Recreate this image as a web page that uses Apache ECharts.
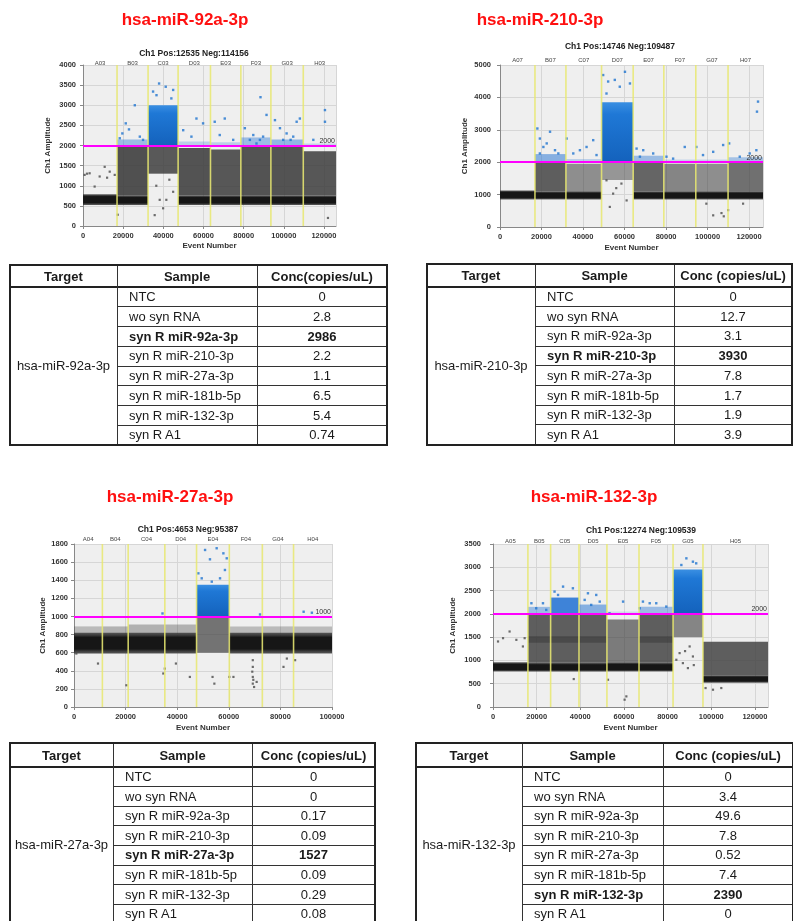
<!DOCTYPE html>
<html><head><meta charset="utf-8">
<script src="https://cdn.jsdelivr.net/npm/echarts@6/dist/echarts.min.js"></script>
<style>
html,body{margin:0;padding:0;background:#fff;width:793px;height:921px;overflow:hidden;}
#chart{position:absolute;left:0;top:0;width:793px;height:921px;}
.tb{position:absolute;font-family:'Liberation Sans',Arial,sans-serif;font-size:13px;color:#1a1a1a;}
.tb div{position:absolute;box-sizing:border-box;white-space:nowrap;}
</style></head><body>
<div id="chart"></div>
<script>
// ---------------- DATA ----------------
const panelTargets = ['hsa-miR-92a-3p','hsa-miR-210-3p','hsa-miR-27a-3p','hsa-miR-132-3p'];
const posCounts = [12535, 14746, 4653, 12274];
const negCounts = [114156, 109487, 95387, 109539];
const wellNames = [
  ['A03','B03','C03','D03','E03','F03','G03','H03'],
  ['A07','B07','C07','D07','E07','F07','G07','H07'],
  ['A04','B04','C04','D04','E04','F04','G04','H04'],
  ['A05','B05','C05','D05','E05','F05','G05','H05']
];
// event-number boundaries of the wells (merged droplet stream)
const wellEdges = [
  [0,16950,32410,47370,63490,78610,93570,109700,126000],
  [0,16840,31760,48920,64160,78920,94320,109870,126700],
  [0,11000,21000,35200,47500,60200,73000,85100,100000],
  [0,16000,26400,39400,52200,66900,82500,96200,126000]
];
const eventMax = [126000, 126700, 100000, 126000];
const eventStep = 20000;
const ampMax = [4000, 5000, 1800, 3500];
const ampStep = [500, 1000, 200, 500];
const threshold = [2000, 2000, 1000, 2000];

// negative droplet cluster (dense band) per well, amplitude
const negLo = [
  [520,520,null,520,520,520,520,520],
  [850,850,850,null,850,850,850,850],
  [590,590,590,590,null,590,590,590],
  [760,760,760,760,760,760,null,520]
];
const negHi = [
  [790,760,null,760,760,760,760,760],
  [1130,1100,1100,null,1100,1100,1100,1100],
  [820,820,820,820,null,820,820,820],
  [960,950,950,950,960,950,null,680]
];
// "rain" droplets between clusters
const rainLo = [
  [null,760,1300,760,760,760,760,760],
  [null,1100,1100,1450,1100,1100,1100,1100],
  [810,810,810,810,600,810,810,810],
  [null,950,950,950,960,950,1500,680]
];
const rainHi = [
  [null,1960,2000,1940,1900,1980,1980,1860],
  [null,2000,1950,2000,2000,1950,1950,2000],
  [890,890,910,910,1000,890,890,890],
  [null,1990,2000,2000,1880,2000,2000,1400]
];
const rainDensity = [
  [0,0.9,0.85,0.88,0.86,0.88,0.88,0.86],
  [0,0.82,0.55,0.5,0.78,0.6,0.55,0.72],
  [0.3,0.35,0.35,0.35,0.7,0.3,0.3,0.3],
  [0,0.82,0.82,0.82,0.66,0.82,0.6,0.82]
];
// secondary (partially amplified) droplet band
const midLo = [
  [null,null,null,null,null,null,null,null],
  [null,null,null,null,null,null,null,null],
  [null,null,null,null,null,null,null,null],
  [null,1380,1380,1380,null,1380,null,null]
];
const midHi = [
  [null,null,null,null,null,null,null,null],
  [null,null,null,null,null,null,null,null],
  [null,null,null,null,null,null,null,null],
  [null,1520,1520,1520,null,1520,null,null]
];
// positive droplet cluster top per well (from threshold up)
const posHi = [
  [null,2150,3000,2100,2080,2200,2150,2050],
  [null,2250,2100,3850,2200,2080,2080,2150],
  [null,null,null,null,1350,null,null,null],
  [null,2150,2350,2200,2050,2150,2950,null]
];
const posDensity = [
  [0,0.4,1,0.25,0.25,0.4,0.45,0.2],
  [0,0.5,0.25,1,0.4,0.2,0.2,0.35],
  [0,0,0,0,1,0,0,0],
  [0,0.4,0.85,0.5,0.15,0.4,1,0]
];
// sparse positive droplets [event, amplitude]
const posDots = [
  [[19600,2300],[22900,2400],[25800,3000],[21300,2550],[18300,2180],[28300,2220],[29900,2140],
   [34900,3340],[37900,3540],[41200,3460],[44900,3380],[36600,3250],[44000,3170],
   [49900,2380],[56500,2670],[59800,2550],[54000,2220],
   [65600,2590],[70600,2670],[68100,2260],[74800,2140],
   [80600,2430],[84800,2260],[88400,3200],[88100,2140],[91400,2760],[83100,2140],[86400,2050],[89700,2220],
   [95600,2630],[98100,2430],[101400,2300],[104700,2220],[106400,2590],[108000,2670],[103400,2140],[99700,2140],
   [120500,2880],[120500,2590],[114700,2140]],
  [[18000,3040],[19200,2730],[24100,2940],[20900,2470],[22500,2580],[26500,2370],[28100,2270],[19200,2270],
   [32100,2730],[35300,2270],[38500,2370],[41700,2470],[44900,2680],[46500,2220],
   [49700,4690],[52100,4490],[55300,4540],[60200,4790],[57700,4330],[62600,4430],[51300,4120],
   [65800,2420],[69000,2370],[73800,2270],[67400,2170],
   [80200,2170],[89000,2470],[83400,2110],
   [94600,2470],[97800,2220],[102700,2320],[107500,2530],
   [110400,2580],[115500,2170],[123500,2370],[124300,3870],[123800,3560],[120300,2270]],
  [[48200,1476],[50800,1734],[52700,1631],[55300,1753],[57900,1697],[58500,1513],[53400,1384],[56600,1421],[59200,1642],[49500,1421],
   [34300,1033],[72100,1022],[89000,1052],[92200,1041]],
  [[17600,2228],[19800,2120],[22900,2228],[24400,2085],
   [32100,2585],[36600,2549],[28200,2478],[29800,2406],
   [43500,2442],[47300,2406],[42000,2300],[48900,2263],[45000,2192],
   [59600,2263],[53400,2013],
   [68700,2263],[71800,2228],[74800,2228],[79400,2156],[67200,2120],
   [88600,3192],[91600,3120],[86300,3049],[93100,3085]]
];
// sparse negative / outlier droplets [event, amplitude]
const negDots = [
  [[800,1270],[3300,1310],[8300,1230],[10800,1470],[13300,1350],[15800,1270],[5800,980],[2000,1300],[12000,1200],
   [35700,270],[38200,650],[41500,650],[44900,850],[39900,440],[36500,1000],[43000,1150],[17300,280],[122000,200]],
  [[102700,360],[106700,430],[107800,330],[109900,520],[99400,720],[117100,720],
   [51300,1440],[54500,1030],[58500,1340],[61000,820],[52900,620],[56000,1200]],
  [[900,590],[9300,480],[20300,240],[34600,370],[35200,424],[39500,480],[44900,332],[53700,332],[54400,258],[60200,332],[61800,332],
   [69300,443],[69300,332],[69300,258],[69800,221],[69300,517],[70800,277],[69100,390],[69500,300],[81200,443],[82500,535],[85700,517]],
  [[2300,1407],[4600,1478],[7600,1621],[10700,1442],[13700,1300],[14500,1478],
   [84000,1014],[87000,942],[89300,835],[91600,1085],[85500,1157],[90100,1300],[88000,1200],[92000,900],
   [60300,157],[61100,228],[97400,407],[100800,371],[104600,407],[52700,585],[37000,600]]
];

// table data
const sampleNames = ['NTC','wo syn RNA','syn R miR-92a-3p','syn R miR-210-3p','syn R miR-27a-3p','syn R miR-181b-5p','syn R miR-132-3p','syn R A1'];
const concValues = [
  [0,2.8,2986,2.2,1.1,6.5,5.4,0.74],
  [0,12.7,3.1,3930,7.8,1.7,1.9,3.9],
  [0,0,0.17,0.09,1527,0.09,0.29,0.08],
  [0,3.4,49.6,7.8,0.52,7.4,2390,0]
];
const concHeaders = ['Conc(copies/uL)','Conc (copies/uL)','Conc (copies/uL)','Conc (copies/uL)'];

// ---------------- LAYOUT ----------------
const FONT = "'Liberation Sans', Arial, sans-serif";
const plotBox = [
  {left:83, top:65, width:253, height:161, titleX:194, titleY:49, lblM:7, yGap:31, xGap:16, wellDy:-2},
  {left:500, top:65, width:263, height:162, titleX:620, titleY:42, lblM:9, yGap:31, xGap:17, wellDy:-5},
  {left:74, top:544, width:258, height:163, titleX:188, titleY:525, lblM:6, yGap:27, xGap:17, wellDy:-5},
  {left:493, top:544, width:275, height:163, titleX:641, titleY:526, lblM:12, yGap:36, xGap:17, wellDy:-3}
];
const redTitle = [{x:185,y:12},{x:540,y:12},{x:170,y:489},{x:594,y:489}];
const tableBox = [
  {left:10, top:265, cols:[107,140,130], head:22, row:19.75},
  {left:427, top:264, cols:[108,139,118], head:23, row:19.7},
  {left:10, top:743, cols:[103,139,123], head:24, row:19.6},
  {left:416, top:743, cols:[106,141,130], head:24, row:19.6}
];

// ---------------- CHART ----------------
function bandItems(p){
  const out=[]; const e=wellEdges[p];
  for(let w=0;w<8;w++){
    const x0=e[w], x1=e[w+1];
    if(rainHi[p][w]!=null) out.push([x0,x1,rainLo[p][w],rainHi[p][w],0,rainDensity[p][w]]);
    if(midLo[p][w]!=null) out.push([x0,x1,midLo[p][w],midHi[p][w],1,0.3]);
    if(negLo[p][w]!=null) out.push([x0,x1,negLo[p][w],negHi[p][w],2,1]);
    if(posHi[p][w]!=null) out.push([x0,x1,threshold[p],posHi[p][w],3,posDensity[p][w]]);
  }
  return out;
}
const negGrad = {type:'linear',x:0,y:0,x2:0,y2:1,colorStops:[
  {offset:0,color:'rgba(50,50,50,0.75)'},{offset:0.22,color:'#161616'},{offset:0.78,color:'#161616'},{offset:1,color:'rgba(50,50,50,0.75)'}]};
const posGrad = {type:'linear',x:0,y:0,x2:0,y2:1,colorStops:[
  {offset:0,color:'#3a8fe2'},{offset:0.2,color:'#1f78d6'},{offset:1,color:'#1462bc'}]};
function bandRender(params, api){
  const a=api.coord([api.value(0),api.value(3)]);
  const b=api.coord([api.value(1),api.value(2)]);
  const kind=api.value(4), d=api.value(5);
  let fill;
  if(kind===0) fill='rgba(62,62,62,'+d+')';
  else if(kind===1) fill='rgba(30,30,30,'+d+')';
  else if(kind===2) fill=negGrad;
  else fill = d>=1 ? posGrad : 'rgba(30,112,212,'+d+')';
  return {type:'rect',shape:{x:a[0],y:a[1],width:b[0]-a[0],height:b[1]-a[1]},style:{fill:fill}};
}
const plain = v => String(v);

const option = {animation:false, textStyle:{fontFamily:FONT}, title:[], grid:[], xAxis:[], yAxis:[], series:[]};
for(let p=0;p<4;p++){
  const B=plotBox[p];
  option.title.push({text:panelTargets[p], left:redTitle[p].x, top:redTitle[p].y, textAlign:'center', padding:0,
    textStyle:{color:'#ff1010',fontSize:17,fontWeight:'bold',fontFamily:FONT}});
  option.title.push({text:'Ch1 Pos:'+posCounts[p]+' Neg:'+negCounts[p], left:B.titleX, top:B.titleY, textAlign:'center', padding:0,
    textStyle:{color:'#222',fontSize:8.5,fontWeight:'bold',fontFamily:FONT}});
  option.grid.push({left:B.left, top:B.top, width:B.width, height:B.height, show:true, backgroundColor:'#efefef', borderWidth:0, containLabel:false, outerBoundsMode:'none'});
  option.xAxis.push({type:'value', gridIndex:p, min:0, max:eventMax[p], interval:eventStep,
    name:'Event Number', nameLocation:'middle', nameGap:B.xGap, nameTextStyle:{fontSize:8,fontWeight:'bold',color:'#333'},
    axisLine:{show:true,onZero:false,lineStyle:{color:'#888'}}, axisTick:{show:true,length:3,lineStyle:{color:'#888'}},
    axisLabel:{formatter:plain,fontSize:7.5,fontWeight:'bold',color:'#333',margin:6,showMinLabel:true,showMaxLabel:eventMax[p]%eventStep===0},
    splitLine:{show:true,lineStyle:{color:'#d6d6d6',width:1}}});
  option.yAxis.push({type:'value', gridIndex:p, min:0, max:ampMax[p], interval:ampStep[p],
    name:'Ch1 Amplitude', nameLocation:'middle', nameGap:B.yGap, nameTextStyle:{fontSize:8,fontWeight:'bold',color:'#333'},
    axisLine:{show:true,lineStyle:{color:'#888'}}, axisTick:{show:true,length:3,lineStyle:{color:'#888'}},
    axisLabel:{formatter:plain,fontSize:7.5,fontWeight:'bold',color:'#333',margin:B.lblM},
    splitLine:{show:true,lineStyle:{color:'#d6d6d6',width:1}}});
  option.series.push({type:'custom', name:'bands'+p, xAxisIndex:p, yAxisIndex:p, z:2,
    encode:{x:[0,1],y:[2,3]}, data:bandItems(p), renderItem:bandRender, silent:true});
  option.series.push({type:'scatter', name:'neg'+p, xAxisIndex:p, yAxisIndex:p, z:3, symbol:'rect', symbolSize:2.2,
    itemStyle:{color:'#4a4a4a'}, data:negDots[p], silent:true});
  option.series.push({type:'scatter', name:'pos'+p, xAxisIndex:p, yAxisIndex:p, z:3, symbol:'rect', symbolSize:2.4,
    itemStyle:{color:'#1f74d0'}, data:posDots[p], silent:true});
  const inner = wellEdges[p].slice(1,8).map(x=>[x,0]);
  option.series.push({type:'custom', name:'wells'+p, xAxisIndex:p, yAxisIndex:p, z:4, silent:true,
    encode:{x:0,y:1}, data:inner,
    renderItem:(params,api)=>{
      const a=api.coord([api.value(0),0]), b=api.coord([api.value(0),ampMax[p]]);
      return {type:'line',shape:{x1:a[0],y1:a[1],x2:b[0],y2:b[1]},style:{stroke:'rgba(232,232,110,0.85)',lineWidth:1.6}};
    },
    markLine:{silent:true,symbol:['none','none'],animation:false,
      lineStyle:{color:'#ff00ff',width:2,type:'solid'},
      label:{show:true,position:'insideEndTop',formatter:String(threshold[p]),fontSize:7,color:'#333',distance:1},
      emphasis:{disabled:true},
      data:[{yAxis:threshold[p]}]}
  });
  const centers = wellNames[p].map((n,i)=>[(wellEdges[p][i]+wellEdges[p][i+1])/2, ampMax[p]]);
  option.series.push({type:'custom', name:'wellLabels'+p, xAxisIndex:p, yAxisIndex:p, z:5, silent:true, clip:false,
    encode:{x:0,y:1}, data:centers,
    renderItem:(params,api)=>{
      const c=api.coord([api.value(0),api.value(1)]);
      return {type:'text',x:c[0],y:c[1]+B.wellDy,style:{text:wellNames[p][params.dataIndex],fill:'#444',
        font:'6px '+FONT,textAlign:'center',textVerticalAlign:'middle'}};
    }});
}
const chart = echarts.init(document.getElementById('chart'), null, {renderer:'canvas'});
chart.setOption(option);

// ---------------- TABLES ----------------
function el(parent, css, text, bold){
  const d=document.createElement('div'); d.style.cssText=css; if(text!=null) d.textContent=text;
  if(bold) d.style.fontWeight='bold'; parent.appendChild(d); return d;
}
for(let t=0;t<4;t++){
  const b=tableBox[t];
  const c0=b.cols[0], c1=b.cols[1], c2=b.cols[2];
  const W=c0+c1+c2, H=b.head+8*b.row;
  const box=document.createElement('div'); box.className='tb';
  box.style.cssText='left:'+b.left+'px;top:'+b.top+'px;width:'+W+'px;height:'+H+'px;';
  document.body.appendChild(box);
  const hdr=['Target','Sample',concHeaders[t]];
  const xs=[0,c0,c0+c1];
  hdr.forEach((h,i)=>el(box,'left:'+xs[i]+'px;top:0;width:'+b.cols[i]+'px;height:'+b.head+'px;line-height:'+(b.head+1)+'px;text-align:center;',h,true));
  el(box,'left:0;top:'+b.head+'px;width:'+c0+'px;height:'+(8*b.row)+'px;line-height:'+(8*b.row)+'px;text-align:center;',panelTargets[t],false);
  const boldName='syn R '+panelTargets[t].replace('hsa-','');
  sampleNames.forEach((s,i)=>{
    const y=b.head+i*b.row; const isB = s===boldName;
    el(box,'left:'+c0+'px;top:'+y+'px;width:'+c1+'px;height:'+b.row+'px;line-height:'+(b.row+1)+'px;padding-left:12px;text-align:left;',s,isB);
    el(box,'left:'+(c0+c1)+'px;top:'+y+'px;width:'+c2+'px;height:'+b.row+'px;line-height:'+(b.row+1)+'px;text-align:center;',String(concValues[t][i]),isB);
    if(i>0) el(box,'left:'+c0+'px;top:'+(y-0.5)+'px;width:'+(c1+c2)+'px;height:1px;background:#333;');
  });
  el(box,'left:0;top:'+(b.head-1)+'px;width:'+W+'px;height:2px;background:#222;');
  el(box,'left:'+(c0-0.5)+'px;top:0;width:1px;height:'+H+'px;background:#333;');
  el(box,'left:'+(c0+c1-0.5)+'px;top:0;width:1px;height:'+H+'px;background:#333;');
  el(box,'left:-1px;top:-1px;width:'+(W+2)+'px;height:'+(H+2)+'px;border:2px solid #222;');
}
</script></body></html>
